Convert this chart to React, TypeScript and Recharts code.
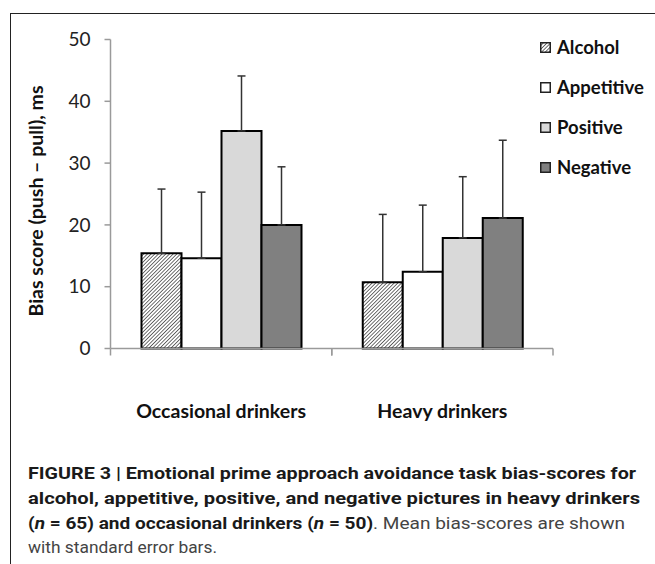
import React from "react";
import { Bar, BarChart, ErrorBar, XAxis, YAxis } from "recharts";

const groups = ["Occasional drinkers", "Heavy drinkers"];
const seriesNames = ["Alcohol", "Appetitive", "Positive", "Negative"];
const alcohol = [15.4, 10.7];
const appetitive = [14.6, 12.4];
const positive = [35.2, 17.9];
const negative = [20.0, 21.1];
const alcoholErr = [10.4, 11.0];
const appetitiveErr = [10.7, 10.8];
const positiveErr = [8.9, 9.9];
const negativeErr = [9.4, 12.6];
const yTicks = [0, 10, 20, 30, 40, 50];

const values = [alcohol, appetitive, positive, negative];
const errors = [alcoholErr, appetitiveErr, positiveErr, negativeErr];
const fills = ["url(#hatch)", "#ffffff", "#d9d9d9", "#808080"];

const data = groups.map((g, i) => {
    const row: any = { name: g };
    seriesNames.forEach((s, k) => {
        row[s] = values[k][i];
        row[s + "Err"] = [0, errors[k][i]];
    });
    return row;
});

const calibri = "Lato, 'Open Sans', sans-serif";
const axisGray = "#9a9a9a";

const CategoryTick = (props: any) => {
    const { x, y, payload, width } = props;
    const half = width / groups.length / 2;
    return (
        <g>
            <line x1={x - half} x2={x - half} y1={y} y2={y + 7} stroke={axisGray} strokeWidth={1.5} />
            <line x1={x + half} x2={x + half} y1={y} y2={y + 7} stroke={axisGray} strokeWidth={1.5} />
            <text x={x} y={y + 69} textAnchor="middle" fontFamily={calibri} fontWeight={700} fontSize={19.5} fill="#111">
                {payload.value}
            </text>
        </g>
    );
};

const YLabel = (props: any) => {
    const { viewBox } = props;
    const cx = 35;
    const cy = viewBox.y + viewBox.height / 2 + 7;
    return (
        <text
            x={cx}
            y={cy}
            transform={`rotate(-90, ${cx}, ${cy})`}
            textAnchor="middle"
            dominantBaseline="central"
            fontFamily={calibri}
            fontWeight={700}
            fontSize={19.5}
            fill="#111"
        >
            Bias score (push – pull), ms
        </text>
    );
};

const caption = "Roboto, 'Liberation Sans', sans-serif";

export default function App() {
    return (
        <div style={{ position: "relative", width: 655, height: 564, overflow: "hidden", background: "#fff" }}>
            <style>{`body{margin:0;overflow:hidden}`}</style>
            <svg width={0} height={0} style={{ position: "absolute" }}>
                <defs>
                    <pattern id="hatch" patternUnits="userSpaceOnUse" width={2.6} height={2.6} patternTransform="rotate(45)">
                        <rect width={2.6} height={2.6} fill="#fff" />
                        <line x1={0} y1={0} x2={0} y2={2.6} stroke="#222" strokeWidth={1.3} />
                    </pattern>
                </defs>
            </svg>
            <div
                style={{
                    position: "absolute",
                    left: 10,
                    top: 13,
                    width: 700,
                    height: 600,
                    border: "1.5px solid #222",
                }}
            />
            <div style={{ position: "absolute", left: 0, top: 0 }}>
                <BarChart
                    width={655}
                    height={440}
                    data={data}
                    margin={{ top: 39.5, right: 102, bottom: 20, left: 0 }}
                    barGap={0}
                    barSize={40}
                >
                    <XAxis
                        dataKey="name"
                        height={71.5}
                        interval={0}
                        tickLine={false}
                        tickSize={0}
                        tickMargin={0}
                        axisLine={{ stroke: axisGray, strokeWidth: 1.5 }}
                        tick={<CategoryTick />}
                    />
                    <YAxis
                        width={110.5}
                        domain={[0, 50]}
                        ticks={yTicks}
                        interval={0}
                        tickSize={6}
                        tickMargin={14}
                        axisLine={{ stroke: axisGray, strokeWidth: 1.5 }}
                        tickLine={{ stroke: axisGray, strokeWidth: 1.5 }}
                        tick={{ fontFamily: calibri, fontSize: 19, fill: "#222" }}
                        label={<YLabel />}
                    />
                    {seriesNames.map((s, k) => (
                        <Bar key={s} dataKey={s} fill={fills[k]} stroke="#000" strokeWidth={2} isAnimationActive={false}>
                            <ErrorBar
                                dataKey={s + "Err"}
                                direction="y"
                                width={4}
                                stroke="#333"
                                strokeWidth={1.5}
                                isAnimationActive={false}
                            />
                        </Bar>
                    ))}
                </BarChart>
            </div>
            {seriesNames.map((s, k) => (
                <div
                    key={s}
                    style={{
                        position: "absolute",
                        left: 540,
                        top: 35 + k * 40,
                        height: 24,
                        display: "flex",
                        alignItems: "center",
                        fontFamily: calibri,
                        fontWeight: 700,
                        fontSize: 18.5,
                        color: "#111",
                        whiteSpace: "nowrap",
                    }}
                >
                    <svg width={11} height={11} style={{ marginRight: 6 }}>
                        <rect x={0.75} y={0.75} width={9.5} height={9.5} fill={fills[k]} stroke="#222" strokeWidth={1.5} />
                    </svg>
                    {s}
                </div>
            ))}
            <svg width={655} height={564} style={{ position: "absolute", left: 0, top: 0 }}>
                <g fontFamily={caption} fontSize={17}>
                    <text x={28} y={479} textLength={608} lengthAdjust="spacingAndGlyphs" fontWeight={700} fill="#1a1a1a">
                        FIGURE 3 | Emotional prime approach avoidance task bias-scores for
                    </text>
                    <text x={28} y={504} textLength={612} lengthAdjust="spacingAndGlyphs" fontWeight={700} fill="#1a1a1a">
                        alcohol, appetitive, positive, and negative pictures in heavy drinkers
                    </text>
                    <text x={28} y={529} textLength={597} lengthAdjust="spacingAndGlyphs" fill="#444">
                        <tspan fontWeight={700} fill="#1a1a1a">(</tspan>
                        <tspan fontWeight={700} fontStyle="italic" fill="#1a1a1a">n</tspan>
                        <tspan fontWeight={700} fill="#1a1a1a"> = 65) and occasional drinkers (</tspan>
                        <tspan fontWeight={700} fontStyle="italic" fill="#1a1a1a">n</tspan>
                        <tspan fontWeight={700} fill="#1a1a1a"> = 50)</tspan>
                        <tspan>. Mean bias-scores are shown</tspan>
                    </text>
                    <text x={28} y={553} textLength={189} lengthAdjust="spacingAndGlyphs" fill="#444">
                        with standard error bars.
                    </text>
                </g>
            </svg>
        </div>
    );
}
